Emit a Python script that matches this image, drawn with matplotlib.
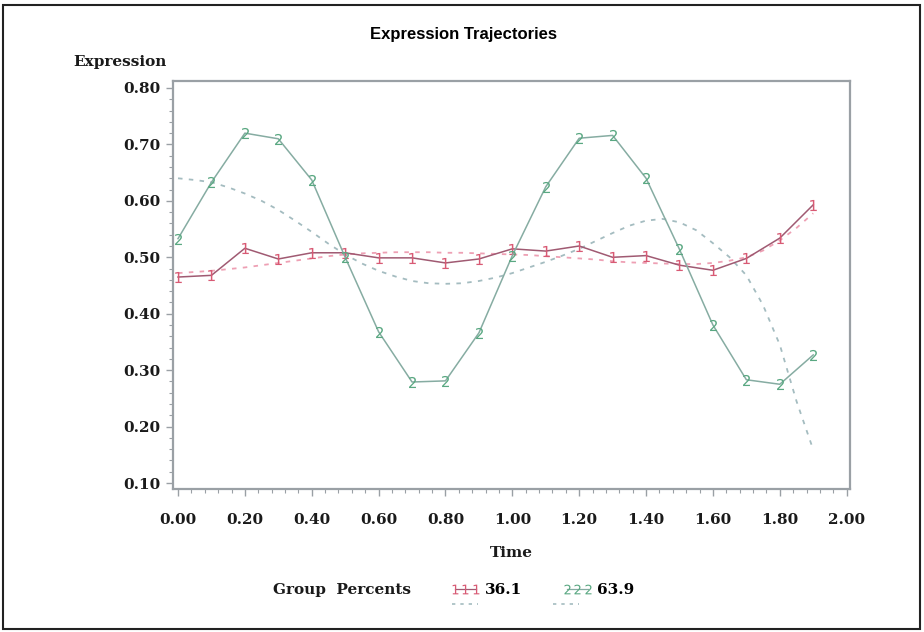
import matplotlib
matplotlib.use('Agg')
import matplotlib.pyplot as plt
from matplotlib.lines import Line2D
from matplotlib.patches import Rectangle
from matplotlib.ticker import MultipleLocator, FormatStrFormatter

# -----------------------------
# Dados
# -----------------------------
tempo = [0.0, 0.1, 0.2, 0.3, 0.4, 0.5, 0.6, 0.7, 0.8, 0.9,
         1.0, 1.1, 1.2, 1.3, 1.4, 1.5, 1.6, 1.7, 1.8, 1.9]

grupo1_obs = [0.465, 0.468, 0.516, 0.497, 0.508, 0.508, 0.499, 0.499, 0.490, 0.497,
              0.515, 0.511, 0.520, 0.500, 0.503, 0.486, 0.477, 0.498, 0.534, 0.593]

grupo2_obs = [0.533, 0.633, 0.720, 0.710, 0.637, 0.500, 0.368, 0.279, 0.281, 0.366,
              0.503, 0.625, 0.711, 0.716, 0.640, 0.514, 0.380, 0.283, 0.275, 0.327]

tempo_fit = [0.00, 0.05, 0.10, 0.15, 0.20, 0.25, 0.30, 0.35, 0.40, 0.45,
             0.50, 0.55, 0.60, 0.65, 0.70, 0.75, 0.80, 0.85, 0.90, 0.95,
             1.00, 1.05, 1.10, 1.15, 1.20, 1.25, 1.30, 1.35, 1.40, 1.45,
             1.50, 1.55, 1.60, 1.65, 1.70, 1.75, 1.80, 1.85, 1.90]

grupo1_fit = [0.472, 0.474, 0.476, 0.479, 0.482, 0.486, 0.490, 0.494, 0.498, 0.502,
              0.505, 0.507, 0.508, 0.509, 0.509, 0.509, 0.508, 0.508, 0.507, 0.506,
              0.505, 0.504, 0.502, 0.500, 0.498, 0.496, 0.493, 0.491, 0.490, 0.489,
              0.488, 0.488, 0.490, 0.494, 0.500, 0.512, 0.530, 0.552, 0.578]

grupo2_fit = [0.640, 0.637, 0.633, 0.624, 0.613, 0.600, 0.584, 0.565, 0.545, 0.524,
              0.505, 0.489, 0.476, 0.466, 0.458, 0.454, 0.453, 0.454, 0.458, 0.464,
              0.472, 0.482, 0.492, 0.503, 0.515, 0.529, 0.543, 0.556, 0.565, 0.568,
              0.562, 0.548, 0.525, 0.500, 0.468, 0.415, 0.345, 0.245, 0.159]

percentuais = ['36.1', '63.9']

# cores
cor_linha1 = '#a05a72'
cor_marca1 = '#d85a74'
cor_fit1 = '#eea0b4'
cor_linha2 = '#86aca2'
cor_marca2 = '#5aa882'
cor_fit2 = '#a4bcc0'

fonte_serif = {'family': 'DejaVu Serif', 'weight': 'bold', 'size': 11}

# -----------------------------
# Gráfico
# -----------------------------
fig = plt.figure(figsize=(9.24, 6.32), dpi=100)
ax = fig.add_axes([173/924, 1 - 489/632, 677/924, 408/632])

ax.plot(tempo_fit, grupo1_fit, color=cor_fit1, linestyle=(0, (2.5, 3.5)), linewidth=1.3)
ax.plot(tempo_fit, grupo2_fit, color=cor_fit2, linestyle=(0, (2.5, 3.5)), linewidth=1.3)

ax.plot(tempo, grupo1_obs, color=cor_linha1, linewidth=1.1,
        marker='$1$', markersize=8, markeredgewidth=0,
        markeredgecolor=cor_marca1, markerfacecolor=cor_marca1)
ax.plot(tempo, grupo2_obs, color=cor_linha2, linewidth=1.1,
        marker='$2$', markersize=8, markeredgewidth=0,
        markeredgecolor=cor_marca2, markerfacecolor=cor_marca2)

ax.set_xlim(-0.015, 2.01)
ax.set_ylim(0.0894, 0.8124)
ax.xaxis.set_major_locator(MultipleLocator(0.2))
ax.xaxis.set_minor_locator(MultipleLocator(0.04))
ax.yaxis.set_major_locator(MultipleLocator(0.1))
ax.yaxis.set_minor_locator(MultipleLocator(0.02))
ax.xaxis.set_major_formatter(FormatStrFormatter('%.2f'))
ax.yaxis.set_major_formatter(FormatStrFormatter('%.2f'))

for s in ax.spines.values():
    s.set_color('#9aa0a5')
    s.set_linewidth(1.6)
ax.tick_params(which='major', length=5, width=1, color='#9aa0a5', pad=4)
ax.tick_params(which='minor', length=3, width=0.8, color='#9aa0a5')
for lab in ax.get_xticklabels() + ax.get_yticklabels():
    lab.set_fontproperties(fonte_serif)
    lab.set_color('#1a1a1a')
ax.tick_params(axis='x', pad=12)

fig.text(463/924, 1 - 34/632, 'Expression Trajectories', ha='center', va='center',
         family='Liberation Sans', weight='bold', size=12)
fig.text(167/924, 1 - 62/632, 'Expression', ha='right', va='center',
         color='#1a1a1a', **fonte_serif)
fig.text(511/924, 1 - 553/632, 'Time', ha='center', va='center',
         color='#1a1a1a', **fonte_serif)

# legenda
fig.text(273/924, 1 - 590/632, 'Group  Percents', ha='left', va='center',
         color='#1a1a1a', **fonte_serif)
handles = [
    Line2D([], [], color=cor_linha1, linewidth=0.9, marker='$1$', markersize=7,
           markeredgewidth=0, markeredgecolor=cor_marca1, markerfacecolor=cor_marca1),
    Line2D([], [], color=cor_linha2, linewidth=0.9, marker='$2$', markersize=7,
           markeredgewidth=0, markeredgecolor=cor_marca2, markerfacecolor=cor_marca2),
]
fig.legend(handles, percentuais, loc='center left', bbox_to_anchor=(450/924, 1 - 590/632),
           ncol=2, frameon=False, numpoints=3, handlelength=2.0, handletextpad=0.3,
           columnspacing=2.6, prop=fonte_serif, borderaxespad=0, borderpad=0)
for x0 in [452, 553]:
    fig.add_artist(Line2D([x0/924, (x0 + 26)/924], [1 - 604/632, 1 - 604/632],
                          transform=fig.transFigure, color=cor_fit2,
                          linestyle=(0, (2, 3)), linewidth=1.2))

# moldura externa
fig.add_artist(Rectangle((3/924, 3/632), 917/924, 624/632, transform=fig.transFigure,
                         fill=False, edgecolor='#222222', linewidth=1.5))

plt.savefig('out.png', dpi=100)
plt.close()
